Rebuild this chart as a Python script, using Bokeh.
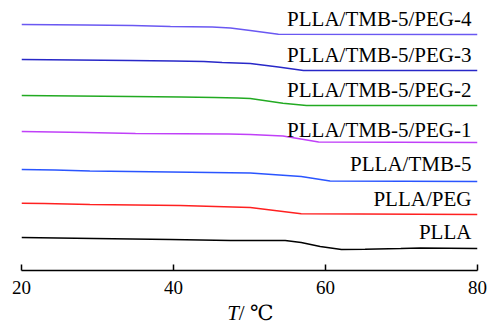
from bokeh.plotting import figure
from bokeh.models import Range1d, FixedTicker, Label
from bokeh.layouts import column
from bokeh.core.properties import value
from bokeh.embed import file_html
from bokeh.resources import INLINE

# Temperatures (°C) and heat flow (arbitrary units, stacked)
t_peg4 = [20, 28.4, 34.6, 39.6, 45.1, 47.5, 50.1, 53.8, 80]
h_peg4 = [243, 242.5, 242, 241, 240.5, 239.5, 237, 233.3, 233]

t_peg3 = [20, 34.3, 40, 44, 46.4, 50.1, 53.8, 57.1, 80]
h_peg3 = [208, 207, 206.5, 206, 205, 204, 200.5, 197, 197]

t_peg2 = [20, 34.3, 41, 45.4, 48.4, 50.1, 54.4, 57.5, 80]
h_peg2 = [172, 171, 170.5, 170, 169.5, 169, 164.3, 162, 162]

t_peg1 = [20, 28.4, 35, 47.3, 50.1, 54.4, 59.1, 80]
h_peg1 = [136, 135, 134, 133.5, 133, 131.5, 125.5, 125]

t_tmb5 = [20, 24.4, 29, 39.6, 50.1, 56.8, 60.6, 80]
h_tmb5 = [98, 97.5, 96.5, 95.5, 94.5, 91, 86.5, 86]

t_peg = [20, 23, 29, 40.9, 50.1, 56.8, 80]
h_peg = [64.3, 64, 63, 62, 60, 53.7, 53]

t_plla = [20, 29.5, 39.6, 47.5, 54.7, 56.8, 59.3, 62.1, 65.2, 69.9, 72.5, 80]
h_plla = [30, 29, 28, 27, 27, 25, 21, 18, 18.3, 19, 19.5, 19]

names = ["PLLA/TMB-5/PEG-4", "PLLA/TMB-5/PEG-3", "PLLA/TMB-5/PEG-2",
         "PLLA/TMB-5/PEG-1", "PLLA/TMB-5", "PLLA/PEG", "PLLA"]
label_y = [241, 205, 170, 130, 95.3, 60.3, 28]
x_ticks = [20, 40, 60, 80]

series = [(t_peg4, h_peg4), (t_peg3, h_peg3), (t_peg2, h_peg2), (t_peg1, h_peg1),
          (t_tmb5, h_tmb5), (t_peg, h_peg), (t_plla, h_plla)]
colors = ["#6a58f2", "#2828c8", "#22aa22", "#c040f8", "#2a55ff", "#ff2020", "#000000"]

FONT = "Liberation Serif"
LIFT = 8  # compensates the renderer's baseline offset

p = figure(width=499, height=300, output_backend="svg", toolbar_location=None,
           x_range=Range1d(20, 80), y_range=Range1d(-3, 267),
           y_axis_type=None, min_border_left=21, min_border_right=22,
           min_border_top=0, min_border_bottom=30)
p.outline_line_color = None
p.grid.visible = False
p.background_fill_color = "white"
p.border_fill_color = "white"

for (tx, hy), c in zip(series, colors):
    p.line(tx, hy, line_color=c, line_width=1.5)

for n, ly in zip(names, label_y):
    p.add_layout(Label(x=79.2, y=ly + LIFT, text=n, text_align="right",
                       text_baseline="alphabetic", text_font=FONT,
                       text_font_size="21px", text_color="black"))

ax = p.xaxis[0]
ax.ticker = FixedTicker(ticks=x_ticks)
ax.minor_tick_line_color = None
ax.major_tick_in = 6
ax.major_tick_out = 0
ax.axis_line_width = 1.5
ax.major_tick_line_width = 1.5
ax.axis_line_color = "black"
ax.major_tick_line_color = "black"
ax.major_label_text_font = FONT
ax.major_label_text_font_size = "19px"
ax.major_label_text_color = "black"
ax.major_label_standoff = 10

# Axis title strip: italic "T" followed by " / ℃"
q = figure(width=499, height=23, output_backend="svg", toolbar_location=None,
           x_range=p.x_range, y_range=Range1d(0, 23),
           x_axis_type=None, y_axis_type=None, min_border_left=21,
           min_border_right=22, min_border_top=0, min_border_bottom=0)
q.outline_line_color = None
q.grid.visible = False
q.background_fill_color = "white"
q.border_fill_color = "white"
q.text(x=[48.6], y=[3 + LIFT], text=["T"], text_align="right",
       text_baseline="alphabetic", text_font=value(FONT),
       text_font_style="italic", text_font_size="21px", text_color="black")
q.text(x=[48.6], y=[3 + LIFT], text=[" / \u2103"], text_align="left",
       text_baseline="alphabetic", text_font=value("Liberation Serif, DejaVu Serif, serif"),
       text_font_size="21px", text_color="black")

layout = column(p, q, spacing=0)
open("out.html", "w").write(file_html(layout, INLINE))
